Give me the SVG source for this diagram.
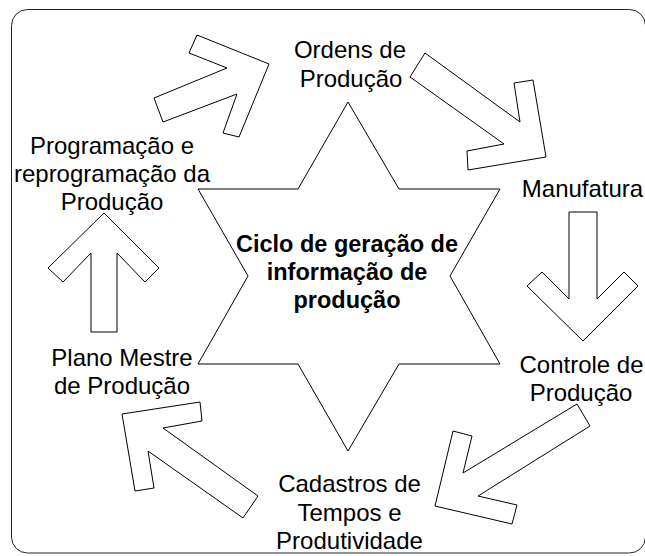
<svg xmlns="http://www.w3.org/2000/svg" width="645" height="556" viewBox="0 0 645 556">
  <style>
    .frame { fill: #ffffff; stroke: #222222; stroke-width: 1; }
    .shape { fill: #ffffff; stroke: #000000; stroke-width: 1; stroke-linejoin: miter; }
    .lbl { font-family: "Liberation Sans", Arial, sans-serif; font-size: 24px; fill: #000000; text-anchor: middle; }
    .title { font-family: "Liberation Sans", Arial, sans-serif; font-size: 23.5px; font-weight: bold; fill: #000000; text-anchor: middle; }
  </style>
  <rect class="frame" x="11.5" y="9.5" width="634" height="543.5" rx="16" ry="16"/>

  <g id="center">
    <polygon class="shape" points="348,102 399,189 500,189 450,276 500,364 399,364 348,451 298,364 198,364 248,276 198,189 298,189"/>
    <text class="title" x="347" y="252">Ciclo de geração de</text>
    <text class="title" x="347" y="280">informação de</text>
    <text class="title" x="347" y="308">produção</text>
  </g>

  <g id="connectors">
    <polygon id="arrow-prog-ordens" class="shape" points="154,98 227,68 189,53 197,35 269,64 239,137 223,133 237,94 163,122"/>
    <polygon id="arrow-ordens-manuf" class="shape" points="425,53 520,122 514,83 533,80 546,157 468,170 467,151 504,144 410,77"/>
    <polygon id="arrow-manuf-controle" class="shape" points="569,212 597,212 597,299 624,272 638,286 583,341 527,286 542,272 569,299"/>
    <polygon id="arrow-controle-cadastros" class="shape" points="577,404 590,426 478,496 517,505 512,524 435,506 453,431 472,436 463,473"/>
    <polygon id="arrow-cadastros-plano" class="shape" points="258,496 163,428 202,421 200,402 122,414 135,491 154,488 148,451 243,518"/>
    <polygon id="arrow-plano-prog" class="shape" points="91,332 117,332 117,253 145,282 159,268 104,213 48,268 63,282 91,253"/>
  </g>

  <g id="ordens">
    <text class="lbl" x="350" y="58">Ordens de</text>
    <text class="lbl" x="351" y="87">Produção</text>
  </g>
  <g id="manufatura">
    <text class="lbl" x="582.5" y="197">Manufatura</text>
  </g>
  <g id="controle">
    <text class="lbl" x="581.5" y="373">Controle de</text>
    <text class="lbl" x="581" y="401">Produção</text>
  </g>
  <g id="cadastros">
    <text class="lbl" x="349.5" y="492">Cadastros de</text>
    <text class="lbl" x="349.5" y="521">Tempos e</text>
    <text class="lbl" x="349.5" y="549">Produtividade</text>
  </g>
  <g id="plano">
    <text class="lbl" x="122" y="366">Plano Mestre</text>
    <text class="lbl" x="122" y="394">de Produção</text>
  </g>
  <g id="programacao">
    <text class="lbl" x="112" y="154">Programação e</text>
    <text class="lbl" x="112" y="182">reprogramação da</text>
    <text class="lbl" x="112" y="210">Produção</text>
  </g>
</svg>
